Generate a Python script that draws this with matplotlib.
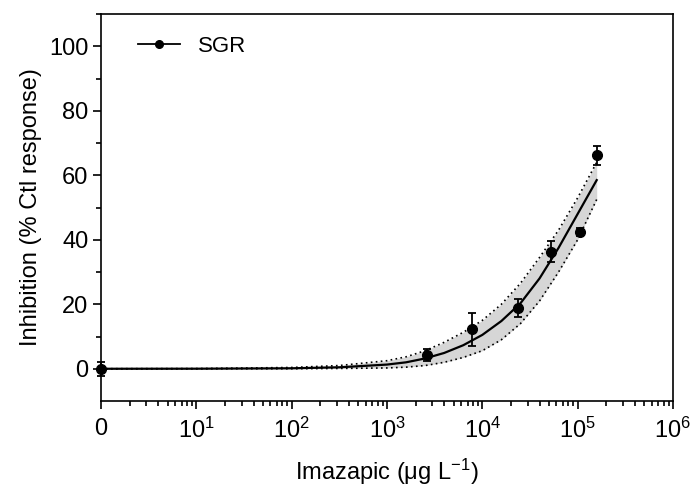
"""Imazapic dose-response: SGR inhibition with fitted curve and 95% band."""

import matplotlib

matplotlib.use("Agg")
import matplotlib.pyplot as plt
import numpy as np
from matplotlib.ticker import FixedLocator, NullFormatter

plt.rcParams["font.family"] = ["Liberation Sans", "DejaVu Sans"]
plt.rcParams["mathtext.default"] = "regular"

# control (0) is drawn at the 10^0 position of the log axis
ZERO_POS = 1.0

dose = [0, 2630, 7870, 23400, 52000, 106000, 158000]
inhibition = [0.0, 4.3, 12.2, 18.8, 36.3, 42.5, 66.2]
inhibition_err = [2.2, 1.8, 5.0, 2.9, 3.2, 1.2, 2.9]

# fitted curve and confidence band, read at these doses
curve_dose = [1, 10, 100, 316, 1000, 1585, 2512, 3981, 6310, 10000,
              15849, 25119, 39811, 63096, 100000, 158489]
curve_fit = [0.0, 0.02, 0.15, 0.45, 1.3, 2.0, 3.2, 4.9, 7.3, 10.5,
             14.8, 20.3, 28.0, 37.5, 48.0, 58.5]
band_low = [0.0, 0.0, 0.0, 0.1, 0.25, 0.5, 1.0, 2.0, 3.5, 5.6,
            9.0, 14.0, 21.0, 30.0, 40.0, 52.5]
band_high = [0.0, 0.05, 0.4, 1.0, 2.5, 3.7, 5.6, 8.2, 11.3, 15.0,
             20.0, 26.5, 34.5, 43.0, 53.0, 64.0]

x_ticks = [1, 1e1, 1e2, 1e3, 1e4, 1e5, 1e6]
x_ticklabels = ["0", "$10^{1}$", "$10^{2}$", "$10^{3}$", "$10^{4}$", "$10^{5}$", "$10^{6}$"]
y_ticks = [0, 20, 40, 60, 80, 100]

fig = plt.figure(figsize=(6.95, 4.9), dpi=100)
ax = fig.add_axes([0.1453, 0.1816, 0.8230, 0.7898])

x_pts = np.array([d if d > 0 else ZERO_POS for d in dose], dtype=float)

ax.fill_between(curve_dose, band_low, band_high, color="#d6d6d6", lw=0, zorder=1)
ax.plot(curve_dose, band_low, color="black", ls=(0, (1, 2.0)), lw=1.2, zorder=2)
ax.plot(curve_dose, band_high, color="black", ls=(0, (1, 2.0)), lw=1.2, zorder=2)
ax.plot(curve_dose, curve_fit, color="black", lw=1.6, zorder=3)

ax.errorbar(x_pts, inhibition, yerr=inhibition_err, fmt="o", color="black",
            ms=7, elinewidth=1.3, capsize=3, capthick=1.3, zorder=4, clip_on=False)

# legend proxy: line with marker
ax.plot([], [], color="black", marker="o", ms=5.5, lw=1.3, label="SGR")
ax.legend(loc="upper left", frameon=False, fontsize=16, handlelength=1.9,
          bbox_to_anchor=(0.03, 0.995), handletextpad=0.8)

ax.set_xscale("log")
ax.set_xlim(1, 1e6)
ax.set_ylim(-10, 110)

ax.xaxis.set_major_locator(FixedLocator(x_ticks))
ax.set_xticklabels(x_ticklabels)
minor_x = [m * 10 ** k for k in range(0, 6) for m in range(2, 10)]
ax.xaxis.set_minor_locator(FixedLocator(minor_x))
ax.xaxis.set_minor_formatter(NullFormatter())

ax.set_yticks(y_ticks)
ax.yaxis.set_minor_locator(FixedLocator([10, 30, 50, 70, 90, 110]))

for side in ax.spines.values():
    side.set_linewidth(1.2)
ax.tick_params(which="major", direction="out", length=6, width=1.2, labelsize=17, pad=3)
ax.tick_params(which="minor", direction="out", length=3.5, width=1.2)
ax.tick_params(axis="x", which="major", pad=6)

ax.set_xlabel("Imazapic (μg L$^{-1}$)", fontsize=17, labelpad=10)
ax.set_ylabel("Inhibition (% Ctl response)", fontsize=17, labelpad=5)

fig.savefig("out.png", dpi=100)
